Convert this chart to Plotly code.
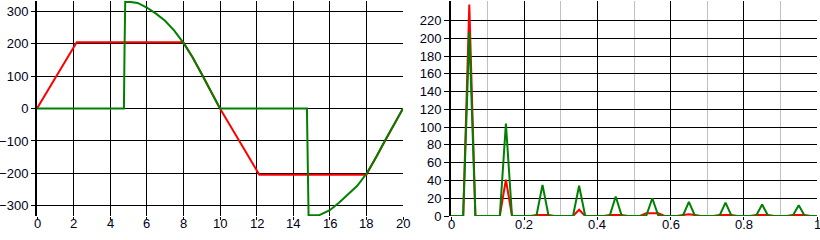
import plotly.graph_objects as go

# ---------- Left chart: time signals ----------
red_t = [0, 1.0, 2.17, 8.0, 8.5, 9.0, 9.5, 10.0, 11.0, 12.15, 18.0, 18.5, 19.0, 19.5, 20.0]
red_v = [0, 96, 204, 204, 158, 106, 53, 0, -95, -204, -204, -153, -100, -50, 0]

green_t = [0, 4.75, 4.78, 4.82, 5.0, 5.5, 6.0, 6.5, 7.0, 7.5, 8.0, 8.5, 9.0, 9.5, 10.0,
           14.75, 14.78, 14.84, 15.4, 16.0, 16.5, 17.0, 17.5, 18.0, 18.5, 19.0, 19.5, 20.0]
green_v = [0, 0, 165, 328, 329, 325, 311, 292, 270, 240, 202, 158, 106, 53, 0,
           0, -165, -329, -329, -313, -290, -265, -238, -201, -153, -100, -50, 0]

left_xticks = [0, 2, 4, 6, 8, 10, 12, 14, 16, 18, 20]
left_xlabels = ["0", "2", "4", "6", "8", "10", "12", "14", "16", "18", "20"]
left_yticks = [-300, -200, -100, 0, 100, 200, 300]

# ---------- Right chart: spectra (bins of 1/60) ----------
spec_bin = list(range(61))
spec_red = [0, 0, 0, 238, 0, 0, 0, 0, 0, 41, 0, 0, 0, 0, 1, 1, 1, 0, 0, 0,
            0, 7, 0, 0, 0, 0, 1, 1, 1, 0, 0, 0, 3, 3, 3, 0, 0, 0, 1, 2, 1,
            0, 0, 0, 1, 1, 1, 0, 0, 0, 1, 1, 1, 0, 0, 0, 1, 1, 1, 0, 0]
spec_green = [0, 0, 0, 207, 0, 0, 0, 0, 0, 104, 0, 0, 0, 0, 0, 35, 0, 0, 0, 0,
              0, 34, 0, 0, 0, 0, 0, 22, 0, 0, 0, 0, 0, 20, 0, 0, 0, 0, 0, 16, 0,
              0, 0, 0, 0, 15, 0, 0, 0, 0, 0, 13, 0, 0, 0, 0, 0, 12, 0, 0, 0]
spec_f = [k / 60 for k in spec_bin]

right_xticks = [0, 0.2, 0.4, 0.6, 0.8, 1]
right_xlabels = ["0", "0.2", "0.4", "0.6", "0.8", "1"]
right_minor = [0.1, 0.3, 0.5, 0.7, 0.9]
right_yticks = list(range(0, 240, 20))

RED = "#ff0000"
GREEN = "#008000"
FONT = dict(family="Liberation Sans, Arial, sans-serif", size=13, color="#000018")

fig = go.Figure()
fig.add_trace(go.Scatter(x=red_t, y=red_v, mode="lines", line=dict(color=RED, width=2),
                         xaxis="x", yaxis="y", showlegend=False))
fig.add_trace(go.Scatter(x=green_t, y=green_v, mode="lines", line=dict(color=GREEN, width=2),
                         xaxis="x", yaxis="y", showlegend=False))
fig.add_trace(go.Scatter(x=spec_f, y=spec_red, mode="lines", line=dict(color=RED, width=2),
                         xaxis="x2", yaxis="y2", showlegend=False))
fig.add_trace(go.Scatter(x=spec_f, y=spec_green, mode="lines", line=dict(color=GREEN, width=2),
                         xaxis="x2", yaxis="y2", showlegend=False))

# x tick labels placed tight under the axes (as in the original)
annotations = []
for v, t in zip(left_xticks, left_xlabels):
    annotations.append(dict(x=v, xref="x", y=0, yref="y domain", text=t, showarrow=False,
                            xanchor="center", yanchor="top", yshift=2, font=FONT))
for v, t in zip(right_xticks, right_xlabels):
    annotations.append(dict(x=v, xref="x2", y=0, yref="y2 domain", text=t, showarrow=False,
                            xanchor="center", yanchor="top", yshift=1, font=FONT))

W, H = 820, 240
fig.update_layout(
    width=W, height=H,
    margin=dict(l=0, r=0, t=1, b=24),
    paper_bgcolor="white", plot_bgcolor="white",
    font=FONT,
    annotations=annotations,
    xaxis=dict(domain=[37 / W, 403 / W], range=[0, 20], tickvals=left_xticks,
               showgrid=True, gridcolor="black", gridwidth=1, zeroline=False,
               showline=False, ticks="outside", ticklen=3, tickcolor="black",
               showticklabels=False, anchor="y"),
    yaxis=dict(domain=[0, 1], range=[-331, 331], tickvals=left_yticks,
               showgrid=True, gridcolor="black", gridwidth=1, zeroline=False,
               showline=True, linecolor="black", linewidth=2,
               ticks="outside", ticklen=4, tickcolor="black", anchor="x", tickfont=FONT),
    xaxis2=dict(domain=[451 / W, 817 / W], range=[0, 1], tickvals=right_xticks,
                showgrid=True, gridcolor="black", gridwidth=1, zeroline=False,
                showline=False, ticks="outside", ticklen=3, tickcolor="black",
                showticklabels=False,
                minor=dict(tickvals=right_minor, showgrid=True, gridcolor="#c0c0c0",
                           gridwidth=1, ticks=""),
                anchor="y2"),
    yaxis2=dict(domain=[0, 1], range=[0, 242], tickvals=right_yticks,
                showgrid=True, gridcolor="black", gridwidth=1, zeroline=False,
                showline=True, linecolor="black", linewidth=2,
                ticks="outside", ticklen=5, tickcolor="black", anchor="x2", tickfont=FONT),
)

fig.write_html("out.html")
